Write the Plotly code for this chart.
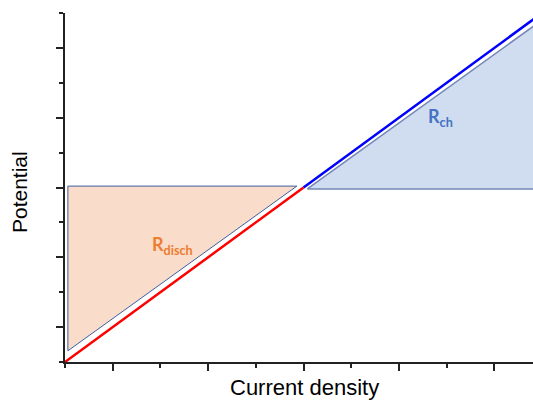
import plotly.graph_objects as go

# Data (units: minor tick = 1)
x_range = [0, 9.81]
y_range = [0, 10]

red_x = [0, 5.0]
red_y = [0, 5.0]
blue_x = [5.0, 10.0]
blue_y = [5.0, 10.0]

disch_x = [0.06, 0.06, 4.86, 0.06]
disch_y = [0.32, 5.04, 5.04, 0.32]
ch_x = [5.08, 10.0, 10.0, 5.08]
ch_y = [4.96, 4.96, 9.80, 4.96]

labels = ["R<sub>disch</sub>", "R<sub>ch</sub>"]
label_x = [2.26, 7.88]
label_y = [3.34, 7.0]
label_colors = ["#ED7D31", "#4472C4"]

fig = go.Figure()
fig.add_trace(go.Scatter(x=disch_x, y=disch_y, mode="lines", fill="toself",
                         fillcolor="#F9DCCA", line=dict(color="#3F5E9E", width=1),
                         hoverinfo="skip", showlegend=False))
fig.add_trace(go.Scatter(x=ch_x, y=ch_y, mode="lines", fill="toself",
                         fillcolor="#D0DDF0", line=dict(color="#7487B4", width=1.5),
                         hoverinfo="skip", showlegend=False))
fig.add_trace(go.Scatter(x=red_x, y=red_y, mode="lines",
                         line=dict(color="#FF0000", width=2.5), showlegend=False))
fig.add_trace(go.Scatter(x=blue_x, y=blue_y, mode="lines",
                         line=dict(color="#0000FF", width=2.5), showlegend=False))

for t, xx, yy, c in zip(labels, label_x, label_y, label_colors):
    fig.add_annotation(x=xx, y=yy, text="<b>" + t + "</b>", showarrow=False,
                       font=dict(family="Lato", size=18, color=c))

fig.add_annotation(xref="paper", yref="paper", x=0.512, y=0, yshift=-25,
                   text="Current density", showarrow=False,
                   xanchor="center", yanchor="middle",
                   font=dict(family="Liberation Sans, Arial", size=22, color="black"))
fig.add_annotation(xref="paper", yref="paper", x=0, xshift=-46, y=0.487,
                   text="Potential", showarrow=False, textangle=-90,
                   xanchor="center", yanchor="middle",
                   font=dict(family="Liberation Sans, Arial", size=21, color="black"))

axis_common = dict(showgrid=False, zeroline=False, showline=True, linecolor="#222",
                   linewidth=2, ticks="outside", tickcolor="#222", tickwidth=2,
                   ticklen=7, tick0=1, dtick=2, showticklabels=False,
                   minor=dict(ticks="outside", ticklen=4, tickwidth=2, tickcolor="#222",
                              tick0=0, dtick=1, showgrid=False))
fig.update_xaxes(range=x_range, **axis_common)
fig.update_yaxes(range=y_range, **axis_common)

fig.update_layout(width=533, height=400, margin=dict(l=65, r=0, t=13, b=38),
                  paper_bgcolor="white", plot_bgcolor="white")

fig.write_html("out.html")
